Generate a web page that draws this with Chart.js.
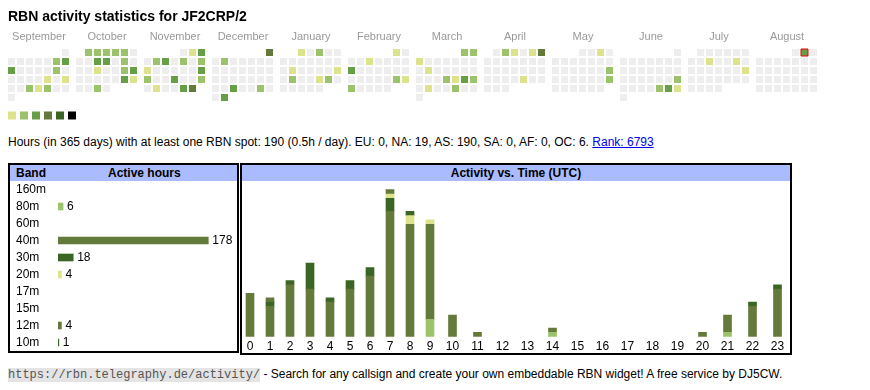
<!DOCTYPE html>
<html>
<head>
<meta charset="utf-8">
<script src="https://cdn.jsdelivr.net/npm/chart.js@4.4.1/dist/chart.umd.min.js"></script>
<style>
	body { margin: 0; width: 870px; height: 390px; position: relative; background: #fff; color: #000;
		font-family: "Liberation Sans", Arial, sans-serif; font-size: 12px; overflow: hidden; }
	canvas { position: absolute; }
	.title { position: absolute; left: 8px; top: 8px; font-size: 14px; line-height: 16px; font-weight: bold; z-index: 2; }
	.info { position: absolute; left: 8px; top: 135px; line-height: 14px; white-space: nowrap; }
	.info a { color: #00e; text-decoration: underline; }
	.box { position: absolute; box-sizing: border-box; border: 2px solid #000; }
	.head { position: absolute; left: 0; right: 0; top: 0; height: 16px; background: #aabbff;
		font-weight: bold; line-height: 16px; }
	.head span { position: absolute; white-space: nowrap; }
	.footer { position: absolute; left: 8px; top: 367px; line-height: 14px; white-space: nowrap; }
	.url { font-family: "Liberation Mono", "Courier New", monospace; font-size: 12px; background: #e4e4e4; color: #555; }
</style>
</head>
<body>
<div class="title">RBN activity statistics for JF2CRP/2</div>
<canvas id="calendar" width="870" height="125" style="left:0;top:0"></canvas>

<div class="info">Hours (in 365 days) with at least one RBN spot: 190 (0.5h / day). EU: 0, NA: 19, AS: 190, SA: 0, AF: 0, OC: 6. <a href="#">Rank: 6793</a></div>

<div class="box" style="left:8px;top:163px;width:231px;height:190px">
	<div class="head"><span style="left:6px">Band</span><span style="left:98px">Active hours</span></div>
</div>
<canvas id="bands" width="227" height="170" style="left:10px;top:181px"></canvas>

<div class="box" style="left:240px;top:163px;width:552px;height:192px">
	<div class="head"><span style="left:0;right:0;text-align:center">Activity vs. Time (UTC)</span></div>
</div>
<canvas id="hours" width="548" height="172" style="left:242px;top:181px"></canvas>

<div class="footer"><span class="url">https://rbn.telegraphy.de/activity/</span> - Search for any callsign and create your own embeddable RBN widget! A free service by DJ5CW.</div>

<script>
const FONT = '"Liberation Sans", Arial, sans-serif'

// calendar: Sept 2024 .. Aug 2025, activity level 1..6 per day
const months = ['September', 'October', 'November', 'December', 'January', 'February', 'March', 'April', 'May', 'June', 'July', 'August']
const firstYear = 2024
const firstMonth = 8
const today = '2025-08-02'
const activeDays = [
	['2024-09-07', 2], ['2024-09-08', 3], ['2024-09-09', 3], ['2024-09-14', 2], ['2024-09-20', 1], ['2024-09-22', 1],
	['2024-09-25', 2], ['2024-09-26', 1], ['2024-09-27', 2],
	['2024-10-01', 2], ['2024-10-02', 2], ['2024-10-03', 2], ['2024-10-04', 2], ['2024-10-05', 2], ['2024-10-09', 3],
	['2024-10-10', 3], ['2024-10-12', 2], ['2024-10-16', 1], ['2024-10-19', 2], ['2024-10-20', 3], ['2024-10-26', 3],
	['2024-10-27', 1], ['2024-10-30', 2],
	['2024-11-02', 1], ['2024-11-03', 3], ['2024-11-05', 2], ['2024-11-06', 3], ['2024-11-08', 2], ['2024-11-10', 2],
	['2024-11-11', 1], ['2024-11-17', 3], ['2024-11-18', 2], ['2024-11-21', 3], ['2024-11-24', 2], ['2024-11-26', 1],
	['2024-11-29', 3], ['2024-11-30', 4],
	['2024-12-01', 4], ['2024-12-03', 2], ['2024-12-25', 3], ['2024-12-28', 2], ['2024-12-31', 3],
	['2025-01-01', 1], ['2025-01-03', 2], ['2025-01-14', 1], ['2025-01-19', 1], ['2025-01-21', 2], ['2025-01-24', 1],
	['2025-01-25', 2],
	['2025-02-01', 1], ['2025-02-05', 1], ['2025-02-10', 3], ['2025-02-22', 2], ['2025-02-23', 1], ['2025-02-24', 2],
	['2025-03-01', 2], ['2025-03-02', 2], ['2025-03-03', 1], ['2025-03-11', 1], ['2025-03-20', 2], ['2025-03-21', 1],
	['2025-03-22', 3], ['2025-03-23', 2], ['2025-03-25', 1], ['2025-03-28', 2],
	['2025-04-02', 2], ['2025-04-03', 1], ['2025-04-05', 1], ['2025-04-06', 4], ['2025-04-25', 1],
	['2025-05-03', 1], ['2025-05-18', 2], ['2025-05-25', 2],
	['2025-06-22', 2], ['2025-06-27', 2], ['2025-06-28', 3], ['2025-06-29', 1],
	['2025-07-09', 1], ['2025-07-12', 1], ['2025-07-20', 1],
	['2025-08-02', 3],
]
const levelColors = ['#eeeeee', '#dce38c', '#9cc26b', '#679f46', '#647a3b', '#3a6524', '#000000']
const legendLevels = [1, 2, 3, 4, 5, 6]

// bands
const bands = ['160m', '80m', '60m', '40m', '30m', '20m', '17m', '15m', '12m', '10m']
const bandHours = [0, 6, 0, 178, 18, 4, 0, 0, 4, 1]
const bandColors = ['#8a8a8a', '#9cc26b', '#b0b0b0', '#647a3b', '#3a6524', '#dce38c', '#c9a04a', '#d07a3a', '#647a3b', '#3a6524']

// activity vs. hour (UTC), per band
const hourLabels = ['0', '1', '2', '3', '4', '5', '6', '7', '8', '9', '10', '11', '12', '13', '14', '15', '16', '17', '18', '19', '20', '21', '22', '23']
const hours80m = [0, 0, 0, 0, 0, 0, 0, 0, 0, 4, 0, 0, 0, 0, 1, 0, 0, 0, 0, 0, 0, 1, 0, 0]
const hours40m = [10, 7, 12, 11, 8, 11, 14, 29, 26, 22, 5, 1, 0, 0, 0, 0, 0, 0, 0, 0, 0, 4, 7, 11]
const hours30m = [0, 1, 1, 6, 1, 2, 2, 3, 0, 0, 0, 0, 0, 0, 0, 0, 0, 0, 0, 0, 0, 0, 1, 1]
const hours20m = [0, 0, 0, 0, 0, 0, 0, 1, 2, 1, 0, 0, 0, 0, 0, 0, 0, 0, 0, 0, 0, 0, 0, 0]
const hours12m = [0, 1, 0, 0, 0, 0, 0, 1, 0, 0, 0, 0, 0, 0, 1, 0, 0, 0, 0, 0, 1, 0, 0, 0]
const hours10m = [0, 0, 0, 0, 0, 0, 0, 0, 1, 0, 0, 0, 0, 0, 0, 0, 0, 0, 0, 0, 0, 0, 0, 0]
const hourSeries = [['80m', hours80m], ['40m', hours40m], ['30m', hours30m], ['20m', hours20m], ['12m', hours12m], ['10m', hours10m]]

// ---------- calendar ----------
const CELL = 9
const BLOCK = 68
const LEFT = 8
const TOP = 49

let levels = {}
activeDays.forEach(d => levels[d[0]] = d[1])

let cells = []
let cellColors = []
let cellBorders = []
let cellBorderWidths = []
for (let i = 0; i < months.length; i++) {
	let y = firstYear + Math.floor((firstMonth + i) / 12)
	let m = (firstMonth + i) % 12
	let days = new Date(Date.UTC(y, m + 1, 0)).getUTCDate()
	let offset = (new Date(Date.UTC(y, m, 1)).getUTCDay() + 6) % 7
	for (let d = 1; d <= days; d++) {
		let key = y + '-' + String(m + 1).padStart(2, '0') + '-' + String(d).padStart(2, '0')
		let col = (offset + d - 1) % 7
		let row = Math.floor((offset + d - 1) / 7)
		cells.push({ x: LEFT + i * BLOCK + col * CELL + 3.5, y: TOP + row * CELL + 3.5 })
		cellColors.push(levelColors[levels[key] || 0])
		cellBorders.push(key === today ? '#ee0000' : 'rgba(0,0,0,0)')
		cellBorderWidths.push(key === today ? 1 : 0)
	}
}

let legendCells = legendLevels.map((l, i) => ({ x: LEFT + 4 + i * 12, y: 115.5 }))

const monthLabels = {
	id: 'monthLabels',
	afterDraw(chart) {
		const { ctx, scales } = chart
		ctx.save()
		ctx.font = '11px ' + FONT
		ctx.fillStyle = '#999'
		ctx.textAlign = 'center'
		ctx.textBaseline = 'alphabetic'
		months.forEach((name, i) => {
			ctx.fillText(name, scales.x.getPixelForValue(LEFT + i * BLOCK + 31), scales.y.getPixelForValue(39.5))
		})
		ctx.restore()
	},
}

new Chart(document.getElementById('calendar'), {
	type: 'scatter',
	data: {
		datasets: [
			{
				data: cells,
				pointStyle: 'rect',
				pointRadius: 3.5 * Math.SQRT2,
				pointBackgroundColor: cellColors,
				pointBorderColor: cellBorders,
				pointBorderWidth: cellBorderWidths,
				clip: false,
			},
			{
				data: legendCells,
				pointStyle: 'rect',
				pointRadius: 4 * Math.SQRT2,
				pointBackgroundColor: legendLevels.map(l => levelColors[l]),
				pointBorderWidth: 0,
				clip: false,
			},
		],
	},
	options: {
		responsive: false,
		animation: false,
		events: [],
		layout: { padding: 0, autoPadding: false },
		plugins: { legend: { display: false }, tooltip: { enabled: false } },
		scales: {
			x: { type: 'linear', min: 0, max: 870, display: false },
			y: { type: 'linear', min: 0, max: 125, reverse: true, display: false },
		},
	},
	plugins: [monthLabels],
})

// ---------- band table ----------
const barValues = {
	id: 'barValues',
	afterDatasetsDraw(chart) {
		const { ctx } = chart
		let meta = chart.getDatasetMeta(0)
		ctx.save()
		ctx.font = '12px ' + FONT
		ctx.fillStyle = '#000'
		ctx.textBaseline = 'middle'
		meta.data.forEach((bar, i) => {
			if (bandHours[i] > 0) ctx.fillText(bandHours[i], bar.x + 4, bar.y)
		})
		ctx.restore()
	},
}

new Chart(document.getElementById('bands'), {
	type: 'bar',
	data: {
		labels: bands,
		datasets: [{ data: bandHours.map(v => v || null), backgroundColor: bandColors, barThickness: 7, borderWidth: 0 }],
	},
	options: {
		indexAxis: 'y',
		responsive: false,
		animation: false,
		events: [],
		layout: { padding: { left: 6, right: 0, top: 0, bottom: 0 }, autoPadding: false },
		plugins: { legend: { display: false }, tooltip: { enabled: false } },
		scales: {
			x: { min: 0, max: 212, display: false },
			y: {
				grid: { display: false, drawTicks: false },
				border: { display: false },
				ticks: { autoSkip: false, crossAlign: 'far', color: '#000', padding: 0, font: { size: 12, family: FONT } },
				afterFit(scale) {
					scale.width = 42
					scale.paddingTop = 0
					scale.paddingBottom = 0
				},
			},
		},
	},
	plugins: [barValues],
})

// ---------- activity vs time ----------
// column width follows the label width (one or two digits)
let hourCenters = []
let pos = 0
hourLabels.forEach(l => {
	let w = l.length === 1 ? 20 : 25
	hourCenters.push(pos + w / 2)
	pos += w
})

new Chart(document.getElementById('hours'), {
	type: 'bar',
	data: {
		datasets: hourSeries.map(s => ({
			label: s[0],
			data: s[1].map((v, i) => ({ x: hourCenters[i], y: v || null })),
			backgroundColor: bandColors[bands.indexOf(s[0])],
			barThickness: 8,
			borderWidth: 0,
		})),
	},
	options: {
		responsive: false,
		animation: false,
		events: [],
		layout: { padding: 0 },
		plugins: { legend: { display: false }, tooltip: { enabled: false } },
		scales: {
			x: {
				type: 'linear',
				stacked: true,
				offset: false,
				min: 2,
				max: pos,
				grid: { display: false, drawTicks: false },
				border: { display: false },
				afterBuildTicks(axis) {
					axis.ticks = hourCenters.map(v => ({ value: v }))
				},
				ticks: {
					autoSkip: false,
					maxRotation: 0,
					padding: 3,
					color: '#000',
					font: { size: 12, family: FONT },
					callback: (v, i) => hourLabels[i],
				},
				afterFit(scale) {
					scale.height = 16.3
				},
			},
			y: { stacked: true, min: 0, max: 36, display: false },
		},
	},
})
</script>
</body>
</html>
